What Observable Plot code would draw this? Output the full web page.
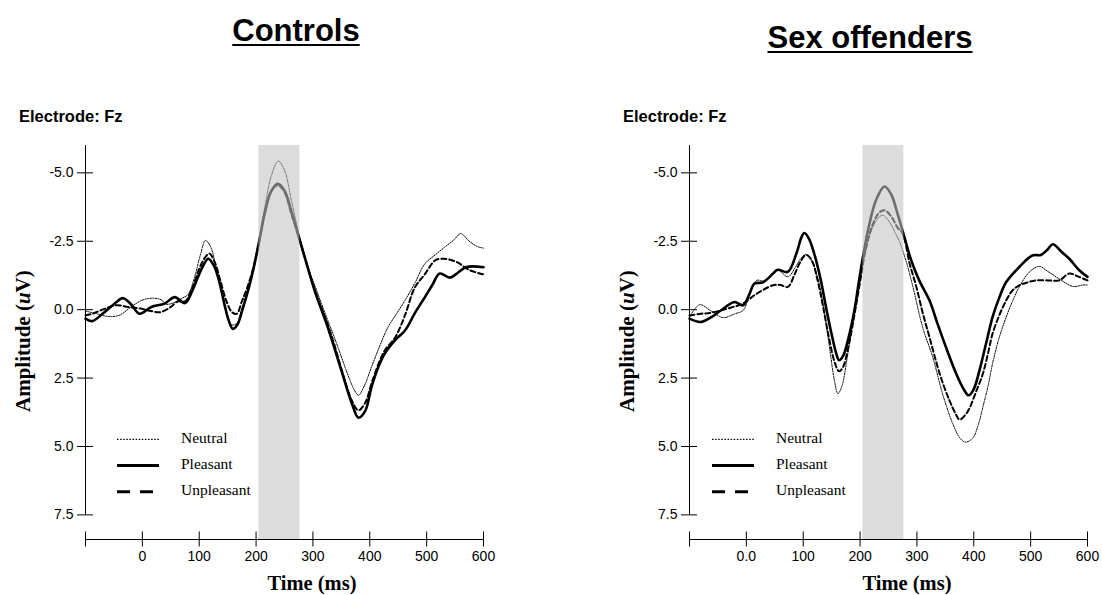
<!DOCTYPE html>
<html><head><meta charset="utf-8">
<script src="https://cdn.jsdelivr.net/npm/d3@7"></script>
<script src="https://cdn.jsdelivr.net/npm/@observablehq/plot@0.6"></script>
<style>
body{margin:0;background:#fff;}
#root{position:relative;width:1102px;height:595px;overflow:hidden;background:#fff;}
.abs{position:absolute;white-space:nowrap;line-height:1;color:#000;}
.title{font:bold 31px "Liberation Sans",Arial,sans-serif;text-decoration:underline;text-decoration-thickness:1.5px;text-underline-offset:3px;transform:translateX(-50%);}
.elec{font:bold 16.5px "Liberation Sans",Arial,sans-serif;}
.xlab{font:bold 20.5px "Liberation Serif","Times New Roman",serif;transform:translateX(-50%);}
.ylab{font:bold 21px "Liberation Serif","Times New Roman",serif;transform-origin:0 0;transform:rotate(-90deg);}
.panel{position:absolute;top:0;}
</style></head><body><div id="root"></div>
<script>
// ---- text / categories ----
const panelTitles = ["Controls", "Sex offenders"];
const electrodeLabel = "Electrode: Fz";
const xAxisTitle = "Time (ms)";
const conditions = ["Neutral", "Pleasant", "Unpleasant"];
const xTicks = [-100, 0, 100, 200, 300, 400, 500, 600];
const xTickLabelsControls = ["", "0", "100", "200", "300", "400", "500", "600"];
const xTickLabelsOffenders = ["", "0.0", "100", "200", "300", "400", "500", "600"];
const yTicks = [-5, -2.5, 0, 2.5, 5, 7.5];
const yTickLabels = ["-5.0", "-2.5", "0.0", "2.5", "5.0", "7.5"];
const bandWindow = [205, 277];

// ---- series: [time ms, amplitude uV] ----
const controlsNeutral = [[-100,0.05],[-80,0.15],[-60,0.25],[-40,0.2],[-20,-0.1],[0,-0.35],[20,-0.42],[34,-0.35],[42,-0.2],[55,-0.25],[68,-0.4],[80,-0.55],[92,-1.2],[102,-2.0],[111,-2.53],[120,-2.3],[130,-1.5],[140,-0.6],[148,0.1],[157,0.55],[166,0.5],[176,-0.1],[186,-0.8],[196,-1.6],[205,-2.5],[215,-3.7],[227,-4.9],[239,-5.43],[250,-5.1],[262,-4.0],[276,-2.7],[290,-1.6],[303,-0.9],[315,-0.22],[330,0.6],[344,1.37],[360,2.3],[372,2.9],[380,3.13],[390,2.8],[403,2.1],[418,1.3],[432,0.64],[447,0.15],[462,-0.34],[480,-1.0],[497,-1.68],[515,-2.0],[532,-2.29],[548,-2.55],[560,-2.78],[575,-2.5],[590,-2.3],[600,-2.25]];
const controlsPleasant = [[-100,0.33],[-88,0.42],[-70,0.15],[-50,-0.2],[-34,-0.42],[-20,-0.2],[-5,0.15],[16,-0.1],[39,-0.22],[57,-0.46],[75,-0.24],[88,-0.7],[98,-1.2],[108,-1.65],[116,-1.86],[126,-1.6],[133,-1.2],[139,-0.7],[146,-0.05],[152,0.4],[159,0.7],[167,0.55],[176,0.0],[186,-0.7],[195,-1.45],[205,-2.45],[215,-3.5],[226,-4.3],[238,-4.6],[250,-4.35],[262,-3.6],[276,-2.6],[290,-1.6],[303,-0.7],[326,0.64],[350,2.22],[368,3.4],[380,3.95],[392,3.7],[403,2.83],[415,2.1],[426,1.61],[445,1.1],[462,0.76],[480,0.1],[497,-0.46],[510,-0.9],[523,-1.32],[541,-1.17],[555,-1.35],[570,-1.56],[600,-1.55]];
const controlsUnpleasant = [[-100,0.21],[-88,0.15],[-70,0.0],[-47,-0.16],[-25,-0.1],[-3,-0.04],[15,0.05],[32,0.09],[50,-0.1],[62,-0.3],[75,-0.3],[88,-0.8],[100,-1.5],[110,-1.9],[118,-2.05],[128,-1.7],[138,-1.0],[148,-0.3],[158,0.1],[166,0.15],[175,-0.3],[186,-0.9],[196,-1.6],[205,-2.45],[215,-3.5],[227,-4.35],[238,-4.55],[250,-4.3],[262,-3.5],[276,-2.6],[290,-1.6],[305,-0.6],[320,0.2],[335,1.1],[352,2.3],[368,3.3],[380,3.68],[392,3.4],[403,2.7],[415,2.0],[426,1.5],[445,1.0],[462,0.2],[479,-0.8],[497,-1.3],[515,-1.8],[530,-1.86],[553,-1.74],[575,-1.45],[600,-1.29]];

const offendersNeutral = [[-100,0.27],[-82,-0.18],[-62,0.05],[-41,0.29],[-20,0.15],[-6,0.03],[5,-0.5],[18,-1.07],[30,-1.05],[42,-1.2],[55,-1.45],[73,-1.2],[85,-1.5],[95,-1.85],[105,-2.02],[115,-1.8],[125,-1.2],[135,-0.2],[145,1.2],[155,2.6],[161,3.07],[168,2.8],[177,1.8],[187,0.5],[197,-0.8],[208,-2.0],[220,-2.9],[232,-3.35],[240,-3.45],[252,-3.2],[262,-2.8],[270,-2.45],[282,-1.7],[293,-0.83],[310,0.64],[328,1.75],[345,3.07],[363,4.17],[376,4.7],[385,4.84],[398,4.7],[408,4.2],[416,3.56],[425,2.8],[433,1.97],[445,1.0],[457,0.27],[470,-0.4],[480,-0.83],[498,-1.38],[515,-1.58],[530,-1.4],[550,-1.13],[574,-0.85],[592,-0.9],[600,-0.9]];
const offendersPleasant = [[-100,0.33],[-80,0.45],[-60,0.25],[-45,0.03],[-21,-0.28],[-6,-0.16],[5,-0.55],[14,-0.95],[29,-1.0],[47,-1.32],[55,-1.46],[73,-1.38],[88,-2.05],[97,-2.65],[102,-2.8],[110,-2.6],[120,-2.0],[131,-1.07],[140,-0.1],[150,0.9],[158,1.6],[163,1.85],[170,1.7],[180,1.0],[190,0.03],[197,-0.9],[204,-1.8],[215,-3.0],[228,-4.0],[243,-4.5],[255,-4.2],[266,-3.5],[278,-2.65],[290,-1.8],[304,-1.07],[322,-0.34],[336,0.5],[351,1.37],[369,2.34],[382,2.9],[391,3.13],[400,2.9],[410,2.22],[422,1.2],[433,0.27],[445,-0.45],[457,-1.01],[480,-1.56],[503,-1.98],[518,-2.0],[530,-2.2],[539,-2.39],[555,-2.1],[568,-1.86],[585,-1.45],[600,-1.2]];
const offendersUnpleasant = [[-100,0.21],[-80,0.15],[-64,0.12],[-40,0.0],[-20,-0.12],[-6,-0.22],[18,-0.58],[47,-0.89],[60,-0.9],[73,-0.83],[85,-1.3],[95,-1.75],[105,-2.0],[115,-1.8],[125,-1.1],[135,-0.1],[145,1.0],[155,1.9],[163,2.25],[170,2.1],[180,1.3],[190,0.2],[199,-0.9],[210,-2.2],[222,-3.1],[234,-3.55],[243,-3.63],[255,-3.4],[266,-3.0],[275,-2.78],[287,-1.7],[299,-0.83],[310,0.1],[322,1.0],[340,2.34],[357,3.31],[368,3.8],[375,4.02],[385,3.85],[392,3.62],[404,3.0],[416,2.34],[425,1.6],[433,0.88],[445,0.2],[457,-0.34],[468,-0.7],[480,-0.89],[495,-1.0],[509,-1.07],[530,-1.07],[550,-1.07],[568,-1.32],[585,-1.2],[600,-1.07]];

// ---- styles (not data) ----
const lineStyles = {
  Neutral: {strokeWidth: 1, strokeDasharray: "1.3,1.3"},
  Pleasant: {strokeWidth: 2.6},
  Unpleasant: {strokeWidth: 2, strokeDasharray: "5,3"}
};
const legendStyles = {
  Neutral: {w: 1.3, dash: "1.5,1.6", len: 42},
  Pleasant: {w: 3, dash: null, len: 42},
  Unpleasant: {w: 3, dash: "13,10", len: 36}
};

const root = document.getElementById("root");
function addDiv(cls, text, left, top, html) {
  const d = document.createElement("div");
  d.className = "abs " + cls;
  if (html) d.innerHTML = html; else d.textContent = text;
  d.style.left = left + "px"; d.style.top = top + "px";
  root.appendChild(d);
  return d;
}

function makePanel(series, xLabels, cfg) {
  const data = [];
  conditions.forEach((c, k) => series[k].forEach(([t, v]) => data.push({cond: c, t, v})));
  const xLab = new Map(xTicks.map((d, i) => [d, xLabels[i]]));
  const yLab = new Map(yTicks.map((d, i) => [d, yTickLabels[i]]));
  const lines = conditions.map(c => Plot.line(data.filter(d => d.cond === c), {
    x: "t", y: "v", curve: "catmull-rom", stroke: "#000", strokeLinejoin: "round", ...lineStyles[c]
  }));
  const chart = Plot.plot({
    width: 551, height: 595,
    marginLeft: cfg.marginLeft, marginRight: cfg.marginRight, marginTop: 145, marginBottom: 56,
    style: {fontFamily: '"Liberation Sans", Arial, sans-serif', fontSize: "14px", color: "#000", background: "transparent", overflow: "visible"},
    x: {domain: [xTicks[0], xTicks[xTicks.length - 1]], label: null},
    y: {domain: [-6, 8.4], reverse: true, label: null},
    marks: [
      ...lines,
      Plot.rect([{x1: bandWindow[0], x2: bandWindow[1]}], {x1: "x1", x2: "x2", fill: "rgb(193,193,193)", fillOpacity: 0.57}),
      Plot.ruleX([xTicks[0]], {y1: -6, y2: yTicks[yTicks.length - 1], stroke: "#000", strokeWidth: 1}),
      Plot.ruleY([8.4], {stroke: "#000", strokeWidth: 1}),
      Plot.axisY({ticks: yTicks, tickSize: 16, dx: 8, tickFormat: () => "", label: null, stroke: "#000"}),
      Plot.axisY({ticks: yTicks, tickSize: 0, tickPadding: 12, tickFormat: d => yLab.get(d), label: null, fill: "#000"}),
      Plot.axisX({ticks: xTicks, tickSize: 15, dy: -7.5, tickFormat: () => "", label: null, stroke: "#000"}),
      Plot.axisX({ticks: xTicks, tickSize: 0, tickPadding: 12, tickFormat: d => xLab.get(d), label: null, fill: "#000"})
    ]
  });
  const wrap = document.createElement("div");
  wrap.className = "panel";
  wrap.style.left = cfg.left + "px";
  wrap.appendChild(chart);
  root.appendChild(wrap);

  // legend
  const lg = d3.create("svg").attr("width", 160).attr("height", 80)
    .style("position", "absolute").style("left", (cfg.legendX - 2) + "px").style("top", "425px");
  conditions.forEach((c, i) => {
    const s = legendStyles[c];
    const y = 14.3 + i * 26.2;
    lg.append("line").attr("x1", 2).attr("x2", 2 + s.len).attr("y1", y).attr("y2", y)
      .attr("stroke", "#000").attr("stroke-width", s.w).attr("stroke-dasharray", s.dash);
    lg.append("text").attr("x", 66).attr("y", y + 3.3).text(c)
      .attr("font-family", '"Liberation Serif","Times New Roman",serif').attr("font-size", 15.5).attr("fill", "#000");
  });
  root.appendChild(lg.node());
}

makePanel([controlsNeutral, controlsPleasant, controlsUnpleasant], xTickLabelsControls,
  {left: 0, marginLeft: 85, marginRight: 68, legendX: 117});
makePanel([offendersNeutral, offendersPleasant, offendersUnpleasant], xTickLabelsOffenders,
  {left: 551, marginLeft: 138, marginRight: 15, legendX: 712});

// titles and labels
addDiv("title", panelTitles[0], 296, 13);
addDiv("title", panelTitles[1], 870, 20);
addDiv("elec", electrodeLabel, 19, 107);
addDiv("elec", electrodeLabel, 623, 107);
addDiv("xlab", xAxisTitle, 312, 572);
addDiv("xlab", xAxisTitle, 907, 572);
const ylabHtml = 'Amplitude (<i>u</i>V)';
addDiv("ylab", null, 10.5, 412, ylabHtml);
addDiv("ylab", null, 614.5, 412, ylabHtml);
</script></body></html>
